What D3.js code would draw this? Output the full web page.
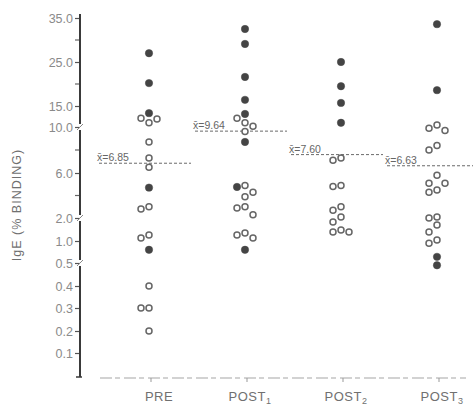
<!DOCTYPE html>
<html>
<head>
<meta charset="utf-8">
<script src="https://cdn.jsdelivr.net/npm/d3@7"></script>
<style>
  body { margin: 0; background: #fff; }
  svg { font-family: "Liberation Sans", Arial, sans-serif; }
</style>
</head>
<body>
<div id="chart-area"></div>
<script>
// groups along the bottom
var categories = ['PRE', 'POST1', 'POST2', 'POST3'];
var catLabels = [['PRE', ''], ['POST', '1'], ['POST', '2'], ['POST', '3']];

// IgE values (% binding)
var preFilled = [27.0, 20.2, 13.3, 4.7, 0.8];
var preOpen = [12.1, 11.9, 11.0, 8.7, 7.3, 6.5, 3.0, 2.8, 1.26, 1.13, 0.4, 0.3, 0.3, 0.2];
var post1Filled = [32.5, 29.1, 21.6, 16.4, 13.1, 8.7, 4.76, 0.8];
var post1Open = [12.1, 11.0, 10.2, 9.6, 4.9, 4.3, 3.9, 3.0, 2.9, 2.3, 1.35, 1.26, 1.13];
var post2Filled = [25.0, 19.5, 15.7, 11.0];
var post2Open = [7.3, 7.1, 4.9, 4.8, 3.0, 2.7, 2.1, 1.83, 1.48, 1.39, 1.39];
var post3Filled = [33.6, 18.6, 0.64, 0.49];
var post3Open = [10.5, 9.9, 9.7, 8.4, 8.0, 5.8, 5.1, 5.1, 4.5, 4.3, 2.1, 2.0, 1.7, 1.39, 1.04, 0.95];

// group means
var means = [6.85, 9.64, 7.60, 6.63];
var meanLabels = ['6.85', '9.64', '7.60', '6.63'];

// y axis (broken scale)
var yTicks = [0.1, 0.2, 0.3, 0.4, 0.5, 1.0, 2.0, 6.0, 10.0, 15.0, 25.0, 35.0];
var yTickLabels = ['0.1', '0.2', '0.3', '0.4', '0.5', '1.0', '2.0', '6.0', '10.0', '15.0', '25.0', '35.0'];
var yMinorTicks = [4, 8, 20, 30];
var yBreaks = [0.5, 2.0, 10.0];

var filled = [preFilled, post1Filled, post2Filled, post3Filled];
var open = [preOpen, post1Open, post2Open, post3Open];

var width = 473, height = 410;
var r = 3.7;

var svg = d3.select('#chart-area')
  .append('svg')
  .attr('width', width)
  .attr('height', height);

// piecewise linear scale, as in the original broken axis
var y = d3.scaleLinear()
  .domain([0, 0.1, 0.2, 0.3, 0.4, 0.5, 1.0, 2.0, 6.0, 10.0, 15.0, 25.0, 35.0])
  .range([377, 353, 331, 308, 286, 263, 241, 218, 173, 127, 106, 62, 18]);

var x = d3.scalePoint()
  .domain(categories)
  .range([149, 437]);

var axisX = 80;

// y axis ticks + labels
var yAxisCall = d3.axisLeft(y)
  .tickValues(yTicks)
  .tickSize(5)
  .tickPadding(2)
  .tickFormat(function (d, i) { return yTickLabels[i]; });

var yAxis = svg.append('g')
  .attr('transform', 'translate(' + axisX + ', 0)')
  .call(yAxisCall);
yAxis.select('.domain').remove();
yAxis.selectAll('line').attr('stroke', '#555').attr('stroke-width', 1.2);
yAxis.selectAll('text')
  .attr('fill', '#8a8a8a')
  .attr('font-size', '12.5px');

// minor ticks
svg.append('g').selectAll('line')
  .data(yMinorTicks)
  .enter()
  .append('line')
  .attr('x1', axisX - 5)
  .attr('x2', axisX)
  .attr('y1', function (d) { return y(d); })
  .attr('y2', function (d) { return y(d); })
  .attr('stroke', '#666')
  .attr('stroke-width', 1.2);

// axis line with gaps at the breaks
var stops = [y(0)].concat(yBreaks.map(function (d) { return y(d); })).concat([14]);
var segs = [];
for (var i = 0; i < stops.length - 1; i++) {
  var a = stops[i] - (i > 0 ? 3 : 0);
  var b = stops[i + 1] + (i + 1 < stops.length - 1 ? 3 : 0);
  segs.push([a, b]);
}
svg.append('g').selectAll('line')
  .data(segs)
  .enter()
  .append('line')
  .attr('x1', axisX)
  .attr('x2', axisX)
  .attr('y1', function (d) { return d[0]; })
  .attr('y2', function (d) { return d[1]; })
  .attr('stroke', '#3a3a3a')
  .attr('stroke-width', 2);

// break marks
svg.append('g').selectAll('path')
  .data(yBreaks)
  .enter()
  .append('path')
  .attr('d', function (d) {
    var yy = y(d);
    return 'M' + (axisX - 3) + ',' + (yy + 3) + 'L' + (axisX + 3) + ',' + (yy - 3);
  })
  .attr('stroke', '#888')
  .attr('stroke-width', 1)
  .attr('fill', 'none');

// foot of the axis
svg.append('line')
  .attr('x1', axisX - 4).attr('x2', axisX + 2)
  .attr('y1', y(0)).attr('y2', y(0))
  .attr('stroke', '#3a3a3a').attr('stroke-width', 1.5);

// faint bottom axis
svg.append('line')
  .attr('x1', 100).attr('x2', 466)
  .attr('y1', y(0) + 1).attr('y2', y(0) + 1)
  .attr('stroke', '#a5a5a5')
  .attr('stroke-width', 1.2)
  .attr('stroke-dasharray', '12,3,5,4');

svg.append('g').selectAll('line')
  .data(categories)
  .enter()
  .append('line')
  .attr('x1', function (d) { return x(d) + 2; })
  .attr('x2', function (d) { return x(d) + 2; })
  .attr('y1', y(0) + 1)
  .attr('y2', y(0) + 5)
  .attr('stroke', '#999');

// category labels
var catText = svg.append('g').selectAll('text')
  .data(categories)
  .enter()
  .append('text')
  .attr('x', function (d, i) { return x(d) + (i === 0 ? 10 : 5); })
  .attr('y', 401)
  .attr('text-anchor', 'middle')
  .attr('font-size', '13px')
  .attr('fill', '#707070')
  .attr('letter-spacing', '0.5px');
catText.append('tspan').text(function (d, i) { return catLabels[i][0]; });
catText.append('tspan')
  .attr('font-size', '9px')
  .attr('dy', 3)
  .text(function (d, i) { return catLabels[i][1]; });

// y axis title
svg.append('text')
  .attr('transform', 'translate(21, 205) rotate(-90)')
  .attr('text-anchor', 'middle')
  .attr('font-size', '12.5px')
  .attr('fill', '#707070')
  .attr('letter-spacing', '1px')
  .text('IgE (% BINDING)');

// simple dodge so that overlapping points spread sideways
function dodge(points, cx) {
  var placed = [];
  var step = 2 * r + 0.6;
  points.sort(function (a, b) { return b.v - a.v; });
  points.forEach(function (p) {
    var py = y(p.v);
    var offsets = [0, -1, 1, -2, 2, -3, 3];
    for (var k = 0; k < offsets.length; k++) {
      var px = cx + offsets[k] * step;
      var ok = placed.every(function (q) {
        return Math.hypot(q.x - px, q.y - py) >= step;
      });
      if (ok) {
        p.x = px; p.y = py;
        placed.push(p);
        return;
      }
    }
    p.x = cx; p.y = py;
    placed.push(p);
  });
  return placed;
}

var allPoints = [];
categories.forEach(function (c, i) {
  var pts = filled[i].map(function (v) { return {v: v, filled: true}; })
    .concat(open[i].map(function (v) { return {v: v, filled: false}; }));
  allPoints = allPoints.concat(dodge(pts, x(c)));
});

// mean lines
svg.append('g').selectAll('line')
  .data(means)
  .enter()
  .append('line')
  .attr('x1', function (d, i) { return x(categories[i]) - 50; })
  .attr('x2', function (d, i) { return Math.min(x(categories[i]) + 42, 473); })
  .attr('y1', function (d) { return y(d); })
  .attr('y2', function (d) { return y(d); })
  .attr('stroke', '#6a6a6a')
  .attr('stroke-width', 1)
  .attr('stroke-dasharray', '3,2');

svg.append('g').selectAll('text')
  .data(means)
  .enter()
  .append('text')
  .attr('x', function (d, i) { return x(categories[i]) - 52; })
  .attr('y', function (d) { return y(d) - 2; })
  .attr('font-size', '10.5px')
  .attr('fill', '#666')
  .text(function (d, i) { return 'x\u0304=' + meanLabels[i]; });

// points
svg.append('g').selectAll('circle')
  .data(allPoints)
  .enter()
  .append('circle')
  .attr('cx', function (d) { return d.x; })
  .attr('cy', function (d) { return d.y; })
  .attr('r', function (d) { return d.filled ? r : r - 0.7; })
  .attr('fill', function (d) { return d.filled ? '#444' : '#fff'; })
  .attr('stroke', function (d) { return d.filled ? '#444' : '#666'; })
  .attr('stroke-width', function (d) { return d.filled ? 0.5 : 1.5; });
</script>
</body>
</html>
